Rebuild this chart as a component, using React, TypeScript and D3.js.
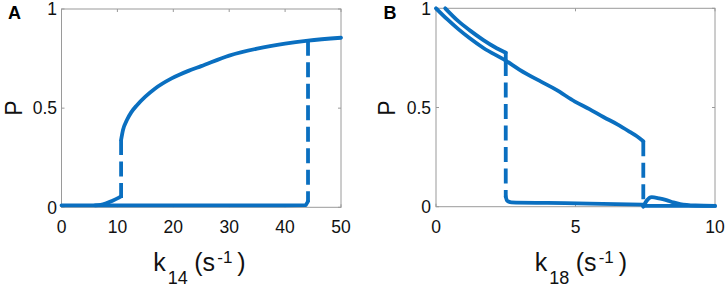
import React from "react";
import * as d3 from "d3";

// ---------- Panel A data (k14) ----------
const aXTicks = [0, 10, 20, 30, 40, 50];
const aYTicks = [0, 0.5, 1];
const aUpperK = [10.66, 11, 11.7, 12.5, 13.5, 15, 16.7, 19.7, 22.7, 25, 30, 35, 40, 44.1, 50];
const aUpperP = [0.34, 0.39, 0.44, 0.48, 0.515, 0.558, 0.598, 0.65, 0.688, 0.712, 0.765, 0.8, 0.825, 0.84, 0.855];
const aLowerK = [0, 10, 20, 30, 40, 43.7, 44.1];
const aLowerP = [0.01, 0.01, 0.01, 0.01, 0.01, 0.011, 0.03];
const aBumpK = [6, 7, 8, 9, 10, 10.66];
const aBumpP = [0.01, 0.012, 0.02, 0.032, 0.045, 0.055];
const aDash1 = { k: 10.66, from: 0.34, to: 0.01 };
const aDash2 = { k: 44.1, from: 0.84, to: 0.03 };

// ---------- Panel B data (k18) ----------
const bXTicks = [0, 5, 10];
const bYTicks = [0, 0.5, 1];
const bStableK = [0, 0.4, 0.8, 1.2, 1.7, 2.5, 3, 3.78, 4.3, 4.98, 5.5, 6.0, 6.5, 6.95, 7.2, 7.43];
const bStableP = [1.0, 0.945, 0.895, 0.85, 0.8, 0.736, 0.69, 0.629, 0.59, 0.53, 0.492, 0.452, 0.415, 0.377, 0.355, 0.33];
const bUpperK = [0.33, 0.8, 1.2, 1.7, 2.1, 2.5];
const bUpperP = [1.0, 0.935, 0.89, 0.84, 0.805, 0.776];
const bLow2K = [2.5, 2.55, 2.7, 4, 5.5, 7.43];
const bLow2P = [0.05, 0.03, 0.022, 0.019, 0.016, 0.01];
const bBumpK = [7.43, 7.55, 7.73, 8.0, 8.26, 8.5, 8.75, 9.3, 10];
const bBumpP = [0.0, 0.03, 0.048, 0.042, 0.033, 0.022, 0.013, 0.006, 0.004];
const bBaseK = [7.43, 10];
const bBaseP = [0.004, 0.004];
const bDash1 = { k: 2.5, from: 0.735, to: 0.05 };
const bDash2 = { k: 7.43, from: 0.33, to: 0.0 };

const BLUE = "#0a6fc0";
const AXIS = "#9a9a9a";
const FONT = "'Liberation Sans', Arial, sans-serif";
const LW = 3.8;

type Scale = d3.ScaleLinear<number, number>;

function Axes({ x, y, xt, yt, labelRight }: { x: Scale; y: Scale; xt: number[]; yt: number[]; labelRight: number }) {
  const [x0, x1] = x.range();
  const [y0, y1] = y.range();
  const tl = 3;
  return (
    <g>
      <rect x={x0} y={y1} width={x1 - x0} height={y0 - y1} fill="none" stroke={AXIS} strokeWidth={1} />
      {xt.map((t) => (
        <g key={"x" + t}>
          <line x1={x(t)} x2={x(t)} y1={y0} y2={y0 - tl} stroke={AXIS} />
          <line x1={x(t)} x2={x(t)} y1={y1} y2={y1 + tl} stroke={AXIS} />
          <text x={x(t)} y={233} textAnchor="middle" fontSize={17.5} fontFamily={FONT} fill="#111">
            {String(t)}
          </text>
        </g>
      ))}
      {yt.map((t) => (
        <g key={"y" + t}>
          <line x1={x0} x2={x0 + tl} y1={y(t)} y2={y(t)} stroke={AXIS} />
          <line x1={x1} x2={x1 - tl} y1={y(t)} y2={y(t)} stroke={AXIS} />
          <text x={labelRight} y={y(t)} dy="0.36em" textAnchor="end" fontSize={17.5} fontFamily={FONT} fill="#111">
            {String(t)}
          </text>
        </g>
      ))}
    </g>
  );
}

function XLabel({ start, sub }: { start: number; sub: string }) {
  const base = 270.7;
  return (
    <g fontFamily={FONT} fill="#111">
      <text x={start} y={base} fontSize={25}>k</text>
      <text x={start + 14.5} y={base + 13.3} fontSize={18}>{sub}</text>
      <text x={start + 41} y={base} fontSize={25}>(s</text>
      <text x={start + 64} y={base - 8} fontSize={17}>-1</text>
      <text x={start + 84} y={base} fontSize={25}>)</text>
    </g>
  );
}

function Curve({ xs, ys, x, y, curve = true }: { xs: number[]; ys: number[]; x: Scale; y: Scale; curve?: boolean }) {
  const pts = xs.map((k, i) => [k, ys[i]] as [number, number]);
  const gen = d3
    .line<[number, number]>()
    .x((d) => x(d[0]))
    .y((d) => y(d[1]))
    .curve(curve ? d3.curveMonotoneX : d3.curveLinear);
  return <path d={gen(pts) || ""} fill="none" stroke={BLUE} strokeWidth={LW} strokeLinejoin="round" strokeLinecap="round" />;
}

function Dash({ d, x, y }: { d: { k: number; from: number; to: number }; x: Scale; y: Scale }) {
  return (
    <line x1={x(d.k)} x2={x(d.k)} y1={y(d.from)} y2={y(d.to)} stroke={BLUE} strokeWidth={LW} strokeDasharray="15 6.5" />
  );
}

export default function App() {
  const xA = d3.scaleLinear().domain([0, 50]).range([61.5, 341]);
  const yA = d3.scaleLinear().domain([0, 1]).range([207.3, 9]);
  const xB = d3.scaleLinear().domain([0, 10]).range([436, 715]);
  const yB = d3.scaleLinear().domain([0, 1]).range([206.7, 8.3]);

  return (
    <svg width={726} height={287} style={{ position: "absolute", left: 0, top: 0, background: "#fff" }}>
      {/* Panel A */}
      <Axes x={xA} y={yA} xt={aXTicks} yt={aYTicks} labelRight={57} />
      <Curve xs={aLowerK} ys={aLowerP} x={xA} y={yA} curve={false} />
      <Curve xs={aBumpK} ys={aBumpP} x={xA} y={yA} />
      <Curve xs={aUpperK} ys={aUpperP} x={xA} y={yA} />
      <Dash d={aDash1} x={xA} y={yA} />
      <Dash d={aDash2} x={xA} y={yA} />
      <text x={8} y={18.5} fontSize={18} fontWeight="bold" fontFamily={FONT}>A</text>
      <text transform="translate(21.5,108) rotate(-90)" textAnchor="middle" fontSize={23} fontFamily={FONT} fill="#111">P</text>
      <XLabel start={153.3} sub="14" />

      {/* Panel B */}
      <Axes x={xB} y={yB} xt={bXTicks} yt={bYTicks} labelRight={431} />
      <Curve xs={bBaseK} ys={bBaseP} x={xB} y={yB} curve={false} />
      <Curve xs={bBumpK} ys={bBumpP} x={xB} y={yB} />
      <Curve xs={bLow2K} ys={bLow2P} x={xB} y={yB} />
      <Curve xs={bStableK} ys={bStableP} x={xB} y={yB} />
      <Curve xs={bUpperK} ys={bUpperP} x={xB} y={yB} />
      <line x1={xB(bUpperK[bUpperK.length - 1])} x2={xB(bDash1.k)} y1={yB(bUpperP[bUpperP.length - 1])} y2={yB(bDash1.from)} stroke={BLUE} strokeWidth={LW} strokeLinecap="round" />
      <Dash d={bDash1} x={xB} y={yB} />
      <Dash d={bDash2} x={xB} y={yB} />
      <text x={383.5} y={18.5} fontSize={18} fontWeight="bold" fontFamily={FONT}>B</text>
      <text transform="translate(395,108) rotate(-90)" textAnchor="middle" fontSize={23} fontFamily={FONT} fill="#111">P</text>
      <XLabel start={534.7} sub="18" />
    </svg>
  );
}
